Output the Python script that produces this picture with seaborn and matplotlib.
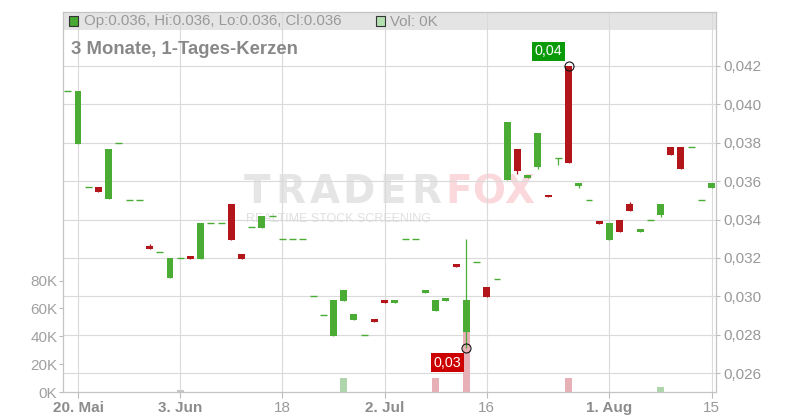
import numpy as np
import pandas as pd
import matplotlib
matplotlib.use("Agg")
import matplotlib.pyplot as plt
import seaborn as sns
from matplotlib.patches import Rectangle
from matplotlib.transforms import blended_transform_factory

# daily candles, one slot per trading day (slot 0 is cut off at the left edge)
opens = [0.04068, 0.03795, 0.03568, 0.03570, 0.03509, 0.03797, 0.03501, 0.03501,
         0.03263, 0.03230, 0.03097, 0.03198, 0.03210, 0.03195, 0.03381, 0.03381,
         0.03481, 0.03221, 0.03361, 0.03358, 0.03419, 0.03297, 0.03297, 0.03297,
         0.03001, 0.02901, 0.02795, 0.02978, 0.02879, 0.02797, 0.02882, 0.02981,
         0.02967, 0.03297, 0.03297, 0.03019, 0.02926, 0.02978, 0.03169, 0.02816,
         0.03179, 0.03049, 0.03091, 0.03608, 0.03768, 0.03618, 0.03676, 0.03528,
         0.03721, 0.04200, 0.03575, 0.03500, 0.03393, 0.03295, 0.03398, 0.03481,
         0.03335, 0.03396, 0.03426, 0.03778, 0.03778, 0.03777, 0.03500, 0.03566]
closes = [0.04068, 0.04070, 0.03568, 0.03545, 0.03768, 0.03797, 0.03501, 0.03501,
          0.03247, 0.03230, 0.03198, 0.03198, 0.03195, 0.03382, 0.03381, 0.03381,
          0.03294, 0.03195, 0.03361, 0.03419, 0.03419, 0.03297, 0.03297, 0.03297,
          0.03001, 0.02901, 0.02981, 0.03033, 0.02908, 0.02797, 0.02868, 0.02967,
          0.02981, 0.03297, 0.03297, 0.03033, 0.02981, 0.02992, 0.03155, 0.02981,
          0.03179, 0.02998, 0.03091, 0.03908, 0.03655, 0.03632, 0.03851, 0.03519,
          0.03721, 0.03695, 0.03591, 0.03500, 0.03379, 0.03382, 0.03335, 0.03446,
          0.03351, 0.03396, 0.03481, 0.03738, 0.03665, 0.03777, 0.03500, 0.03591]
highs = [0.04068, 0.04070, 0.03568, 0.03570, 0.03768, 0.03797, 0.03501, 0.03501,
         0.03273, 0.03230, 0.03198, 0.03198, 0.03210, 0.03382, 0.03381, 0.03381,
         0.03481, 0.03221, 0.03361, 0.03419, 0.03419, 0.03297, 0.03297, 0.03297,
         0.03001, 0.02901, 0.02981, 0.03033, 0.02908, 0.02797, 0.02882, 0.02981,
         0.02981, 0.03297, 0.03297, 0.03033, 0.02981, 0.02992, 0.03169, 0.03297,
         0.03179, 0.03049, 0.03091, 0.03908, 0.03768, 0.03632, 0.03851, 0.03528,
         0.03721, 0.04200, 0.03591, 0.03500, 0.03393, 0.03382, 0.03398, 0.03492,
         0.03351, 0.03396, 0.03481, 0.03778, 0.03778, 0.03777, 0.03500, 0.03591]
lows = [0.04068, 0.03795, 0.03568, 0.03545, 0.03509, 0.03797, 0.03501, 0.03501,
        0.03247, 0.03230, 0.03097, 0.03198, 0.03195, 0.03195, 0.03381, 0.03381,
        0.03294, 0.03195, 0.03361, 0.03358, 0.03419, 0.03297, 0.03297, 0.03297,
        0.03001, 0.02901, 0.02795, 0.02978, 0.02879, 0.02797, 0.02868, 0.02967,
        0.02967, 0.03297, 0.03297, 0.03019, 0.02926, 0.02978, 0.03155, 0.02731,
        0.03179, 0.02998, 0.03091, 0.03608, 0.03639, 0.03618, 0.03665, 0.03519,
        0.03686, 0.03695, 0.03565, 0.03500, 0.03379, 0.03295, 0.03335, 0.03446,
        0.03335, 0.03396, 0.03415, 0.03738, 0.03665, 0.03777, 0.03500, 0.03566]
volumes = [0, 0, 0, 0, 0, 0, 0, 0, 0, 0, 0, 1400, 0, 0, 0, 0,
           0, 0, 0, 0, 0, 0, 0, 0, 0, 0, 0, 10000, 0, 0, 0, 0,
           0, 0, 0, 0, 10000, 0, 0, 45000, 0, 0, 0, 0, 0, 0, 0, 0,
           0, 10000, 0, 0, 0, 0, 0, 0, 0, 0, 3600, 0, 0, 0, 0, 0]

tick_slots = [1, 11, 21, 31, 41, 53, 63]
tick_labels = ["20. Mai", "3. Jun", "18", "2. Jul", "16", "1. Aug", "15"]
bold_labels = ["20. Mai", "3. Jun", "2. Jul", "1. Aug"]
price_ticks = [0.026, 0.028, 0.030, 0.032, 0.034, 0.036, 0.038, 0.040, 0.042]
vol_ticks = [0, 20000, 40000, 60000, 80000]

GREEN = "#4aab35"
RED = "#b3161a"
GRID = "#dadada"
VOL_COLORS = {"up": "#a9dca5", "down": "#f0a7b0", "flat": "#c8c8c8"}


def px(x, y):
    """Pixel position (from top left) to figure fraction."""
    return x / 800, 1 - y / 420


def main():
    sns.set_theme(style="white")
    plt.rcParams['font.family'] = ['Liberation Sans', 'DejaVu Sans']

    o = np.array(opens)
    c = np.array(closes)
    h = np.array(highs)
    lo = np.array(lows)
    slots = np.arange(len(c))

    diff = np.diff(c, prepend=c[0])
    vol_dir = np.where(diff > 0, "up", np.where(diff < 0, "down", "flat"))
    df = pd.DataFrame({"slot": slots, "vol": volumes, "dir": vol_dir})

    fig = plt.figure(figsize=(8, 4.2), dpi=100)
    axv = fig.add_axes([63 / 800, 28 / 420, 653 / 800, 380 / 420])
    ax = axv.twinx()

    # volume bars on the left scale
    sns.barplot(data=df, x="slot", y="vol", hue="dir", palette=VOL_COLORS,
                hue_order=["up", "down", "flat"], dodge=False,
                native_scale=True, width=0.68, legend=False, errorbar=None,
                linewidth=0, ax=axv)

    xmin, xmax = -0.47, 63.43

    # legend band at the top of the plot
    band = Rectangle((0, 1 - 18 / 380), 1, 18 / 380, transform=axv.transAxes,
                     facecolor="#e4e4e4", edgecolor="none", zorder=0.2)
    axv.add_patch(band)

    # grid: vertical on the date ticks, horizontal on the price ticks
    axv.set_xticks(tick_slots)
    axv.set_xticklabels(tick_labels)
    axv.set_axisbelow(True)
    axv.grid(axis="x", color=GRID, lw=0.8)
    axv.grid(axis="y", visible=False)
    trans = blended_transform_factory(axv.transAxes, ax.transData)
    for p in price_ticks:
        axv.plot([0, 1], [p, p], transform=trans, color=GRID, lw=0.8,
                 zorder=0.5, scalex=False, scaley=False)

    # watermark
    for k, ch in enumerate("TRADER"):
        axv.text(*px(240 + 203 * (k + 0.5) / 6, 203), ch,
                 transform=fig.transFigure, ha="center", va="baseline",
                 fontsize=28, fontweight="bold", color="#e5e5e5",
                 family="DejaVu Sans", zorder=0.3)
    for k, ch in enumerate("FOX"):
        axv.text(*px(443 + 92 * (k + 0.5) / 3, 203), ch,
                 transform=fig.transFigure, ha="center", va="baseline",
                 fontsize=28, fontweight="bold", color="#fbd8dc",
                 family="DejaVu Sans", zorder=0.3)
    axv.text(*px(338, 222), "REALTIME STOCK SCREENING",
             transform=fig.transFigure, ha="center", va="baseline",
             fontsize=9, color="#e0e0e0", zorder=0.3)
    axv.set_xlim(xmin, xmax)
    axv.set_ylim(0, 273000)

    # candles on the right scale
    colors = np.where(c >= o, GREEN, RED)
    ax.vlines(slots, lo, h, colors=colors, lw=0.9, zorder=3)
    body = np.abs(c - o)
    solid = body > 0.00002
    ax.bar(slots[solid], body[solid], bottom=np.minimum(o, c)[solid],
           width=0.68, color=colors[solid], linewidth=0, zorder=4)
    ax.hlines(c[~solid], slots[~solid] - 0.34, slots[~solid] + 0.34,
              colors=colors[~solid], lw=1.0, zorder=4)

    # highest high / lowest low markers
    i_hi = int(np.argmax(h))
    i_lo = int(np.argmin(lo))
    for i, val, fc, off in [(i_hi, h[i_hi], "#0a9a0a", (-14.5, 10.5)),
                            (i_lo, lo[i_lo], "#cc0000", (-13.5, -10.5))]:
        ax.plot(i, val, "o", mfc="none", mec="#111111", ms=6.5, mew=0.8,
                zorder=6)
        ax.annotate(f"{val:.2f}".replace(".", ","), xy=(i, val), xytext=off,
                    textcoords="offset points", ha="center", va="center",
                    color="white", fontsize=10.3, zorder=7,
                    bbox=dict(boxstyle="square,pad=0.18", fc=fc, ec="none"))

    ax.set_xlim(xmin, xmax)
    ax.set_ylim(0.02502, 0.04481)

    # axes styling
    ax.set_yticks(price_ticks)
    ax.set_yticklabels([f"{t:.3f}".replace(".", ",") for t in price_ticks])
    ax.tick_params(axis="y", right=True, length=3, width=0.8, color="#bbbbbb",
                   labelsize=11, labelcolor="#999999", pad=2)
    axv.set_yticks(vol_ticks)
    axv.set_yticklabels([f"{v // 1000}K" for v in vol_ticks])
    axv.tick_params(axis="y", left=True, length=3, width=0.8, color="#bbbbbb",
                    labelsize=11, labelcolor="#a0a0a0", pad=1)
    axv.tick_params(axis="x", bottom=True, length=4, width=0.8,
                    color="#bbbbbb", labelsize=11, labelcolor="#999999",
                    pad=2.5)
    for lab in axv.get_xticklabels():
        if lab.get_text() in bold_labels:
            lab.set_fontweight("bold")
            lab.set_color("#8c8c8c")
    for a in (axv, ax):
        a.set_xlabel("")
        a.set_ylabel("")
        for s in a.spines.values():
            s.set_color("#c4c4c4")
            s.set_linewidth(0.8)

    # legend row and title
    fig.add_artist(Rectangle(px(69, 26), 9 / 800, 10 / 420,
                             transform=fig.transFigure, facecolor="#48a834",
                             edgecolor="#333333", lw=0.8))
    fig.text(*px(84, 21.5), "Op:0.036, Hi:0.036, Lo:0.036, Cl:0.036",
             ha="left", va="center", fontsize=10.8, color="#999999")
    fig.add_artist(Rectangle(px(376, 26), 9 / 800, 10 / 420,
                             transform=fig.transFigure, facecolor="#b4e0b0",
                             edgecolor="#333333", lw=0.8))
    fig.text(*px(390, 21.5), "Vol: 0K", ha="left", va="center",
             fontsize=10.8, color="#999999")
    fig.text(*px(71, 54.5), "3 Monate, 1-Tages-Kerzen", ha="left",
             va="baseline", fontsize=13.3, fontweight="bold", color="#888888")

    fig.savefig("out.png", dpi=100)


if __name__ == '__main__':
    main()
